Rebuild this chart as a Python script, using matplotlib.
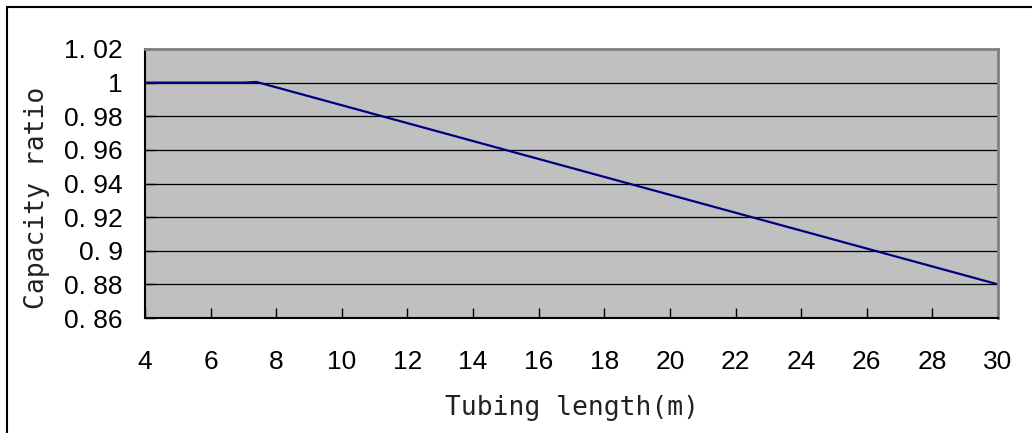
import matplotlib.pyplot as plt
import matplotlib.patches as patches

plt.rcParams["font.family"] = ["Liberation Sans"]

# data
length = [4, 7, 7.4, 30]
ratio = [1.0, 1.0, 1.0004, 0.88]

xticks = list(range(4, 31, 2))
yticks = [0.86, 0.88, 0.90, 0.92, 0.94, 0.96, 0.98, 1.00, 1.02]
ylabels = ["0. 86", "0. 88", "0. 9", "0. 92", "0. 94", "0. 96", "0. 98", "1", "1. 02"]

W, H = 1032, 433
fig = plt.figure(figsize=(W / 100, H / 100), dpi=100)
ax = fig.add_axes([145 / W, 1 - 318 / H, (998 - 145) / W, (318 - 49) / H])
ax.set_facecolor("#C0C0C0")

ax.plot(length, ratio, color="#000080", lw=1.6, solid_capstyle="butt")

ax.set_xlim(4, 30)
ax.set_ylim(0.86, 1.02)
ax.set_xticks(xticks)
ax.set_yticks(yticks)
ax.set_yticklabels(ylabels)
for y in yticks[1:-1]:
    ax.axhline(y, color="black", lw=0.9, zorder=1)

ax.tick_params(axis="x", direction="in", length=7, width=1, pad=23, top=False, labelsize=19)
ax.tick_params(axis="y", direction="in", length=7, width=1, pad=16, right=False, labelsize=19)

for s in ["left", "bottom"]:
    ax.spines[s].set_color("black")
    ax.spines[s].set_linewidth(1.5)
for s in ["top", "right"]:
    ax.spines[s].set_color("#808080")
    ax.spines[s].set_linewidth(2)

mono = ["DejaVu Sans Mono"]
fig.text(572 / W, 1 - 408 / H, "Tubing length(m)", ha="center", va="center",
         family=mono, fontsize=19, color="#222222")
fig.text(37 / W, 1 - 198 / H, "Capacity ratio", ha="center", va="center",
         rotation=90, family=mono, fontsize=19, color="#222222")

# outer chart frame (only top and left edges fall inside the image)
frame = patches.Rectangle((7 / W, -0.2), 1.2, 1.2 - 7 / H, transform=fig.transFigure,
                          fill=False, edgecolor="black", lw=1.5, clip_on=False)
fig.patches.append(frame)

fig.savefig("out.png", dpi=100, facecolor="white")
